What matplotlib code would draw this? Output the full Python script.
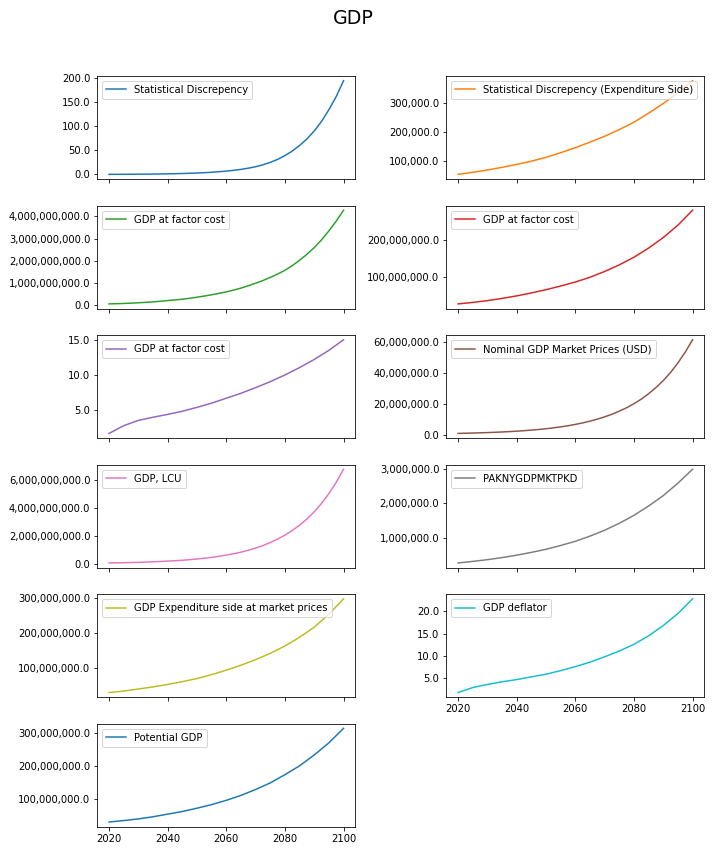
import matplotlib
matplotlib.use("Agg")
import matplotlib.pyplot as plt
from matplotlib.ticker import StrMethodFormatter

years = [2020, 2025, 2030, 2035, 2040, 2045, 2050, 2055, 2060,
         2065, 2070, 2075, 2080, 2085, 2090, 2095, 2100]
years_fine = [2020, 2022.5, 2025, 2027.5, 2030, 2032.5, 2035, 2037.5, 2040,
              2042.5, 2045, 2047.5, 2050, 2052.5, 2055, 2057.5, 2060,
              2062.5, 2065, 2067.5, 2070, 2072.5, 2075, 2077.5, 2080,
              2082.5, 2085, 2087.5, 2090, 2092.5, 2095, 2097.5, 2100]

stat_disc = [0.23, 0.29, 0.36, 0.445, 0.55, 0.68, 0.85, 1.05, 1.3,
             1.61, 2.0, 2.45, 3.0, 3.71, 4.6, 5.67, 7.0,
             8.57, 10.5, 12.96, 16, 20, 25, 31.2, 39,
             48.4, 60, 73.5, 90, 109.8, 134, 161.2, 194]
stat_disc_exp = [56e3, 63e3, 71e3, 80e3, 90e3, 101e3, 114e3, 130e3, 147e3,
                 166e3, 186e3, 209e3, 234e3, 265e3, 298e3, 335e3, 376e3]
gdp_fc_lcu = [0.07e9, 0.079e9, 0.09e9, 0.104e9, 0.12e9, 0.139e9, 0.16e9, 0.188e9, 0.22e9,
              0.248e9, 0.28e9, 0.322e9, 0.37e9, 0.421e9, 0.48e9, 0.541e9, 0.61e9,
              0.69e9, 0.78e9, 0.883e9, 1.0e9, 1.12e9, 1.26e9, 1.41e9, 1.58e9,
              1.79e9, 2.03e9, 2.30e9, 2.6e9, 2.95e9, 3.35e9, 3.79e9, 4.28e9]
gdp_fc_real = [26e6, 30e6, 35e6, 41e6, 48e6, 56e6, 65e6, 75e6, 86e6,
               99e6, 115e6, 133e6, 154e6, 179e6, 208e6, 242e6, 283e6]
gdp_fc_defl = [1.7, 2.8, 3.55, 4.0, 4.4, 4.85, 5.4, 6.0, 6.7,
               7.4, 8.2, 9.05, 10.0, 11.05, 12.2, 13.5, 15.0]
nominal_usd = [0.75e6, 0.87e6, 1.0e6, 1.14e6, 1.3e6, 1.49e6, 1.7e6, 1.93e6, 2.2e6,
               2.53e6, 2.9e6, 3.32e6, 3.8e6, 4.36e6, 5.0e6, 5.74e6, 6.6e6,
               7.58e6, 8.7e6, 10.0e6, 11.5e6, 13.2e6, 15.2e6, 17.4e6, 20.0e6,
               23.0e6, 26.5e6, 30.5e6, 35.0e6, 40.3e6, 46.5e6, 53.5e6, 61.5e6]
gdp_lcu = [0.057e9, 0.066e9, 0.077e9, 0.088e9, 0.10e9, 0.118e9, 0.14e9, 0.163e9, 0.19e9,
           0.218e9, 0.25e9, 0.292e9, 0.34e9, 0.395e9, 0.46e9, 0.534e9, 0.62e9,
           0.717e9, 0.83e9, 0.964e9, 1.12e9, 1.30e9, 1.52e9, 1.77e9, 2.05e9,
           2.38e9, 2.76e9, 3.20e9, 3.72e9, 4.32e9, 5.02e9, 5.83e9, 6.76e9]
paknygdp = [0.275e6, 0.32e6, 0.37e6, 0.43e6, 0.50e6, 0.58e6, 0.67e6, 0.78e6, 0.90e6,
            1.05e6, 1.22e6, 1.42e6, 1.65e6, 1.92e6, 2.22e6, 2.58e6, 2.98e6]
gdp_exp = [30e6, 34e6, 40e6, 46e6, 53e6, 61e6, 70e6, 81e6, 94e6,
           108e6, 124e6, 142e6, 163e6, 188e6, 217e6, 254e6, 298e6]
gdp_deflator = [1.8, 2.9, 3.6, 4.2, 4.7, 5.3, 5.9, 6.7, 7.6,
                8.6, 9.8, 11.1, 12.6, 14.5, 16.8, 19.5, 22.8]
potential_gdp = [29e6, 33.5e6, 38.5e6, 45e6, 53e6, 61e6, 71e6, 82e6, 95e6,
                 110e6, 128e6, 148e6, 173e6, 200e6, 233e6, 270e6, 314e6]

labels = ["Statistical Discrepency",
          "Statistical Discrepency (Expenditure Side)",
          "GDP at factor cost",
          "GDP at factor cost",
          "GDP at factor cost",
          "Nominal GDP Market Prices (USD)",
          "GDP, LCU",
          "PAKNYGDPMKTPKD",
          "GDP Expenditure side at market prices",
          "GDP deflator",
          "Potential GDP"]
series = [stat_disc, stat_disc_exp, gdp_fc_lcu, gdp_fc_real, gdp_fc_defl,
          nominal_usd, gdp_lcu, paknygdp, gdp_exp, gdp_deflator, potential_gdp]
colors = ["C0", "C1", "C2", "C3", "C4", "C5", "C6", "C7", "C8", "C9", "C0"]

plt.rcParams["font.size"] = 10
fig, axes = plt.subplots(6, 2, sharex=True, figsize=(712 / 72, 850 / 72), dpi=72)
fig.subplots_adjust(left=0.1367, right=0.9892, top=0.9106, bottom=0.0274,
                    wspace=0.353, hspace=0.257)

flat = axes.flatten()
for ax, lab, vals, col in zip(flat, labels, series, colors):
    xs = years_fine if len(vals) == len(years_fine) else years
    ax.plot(xs, vals, color=col, label=lab)
    ax.yaxis.set_major_formatter(StrMethodFormatter("{x:,.1f}"))
    ax.legend(loc="upper left")

flat[-1].remove()
axes[4, 1].xaxis.set_tick_params(labelbottom=True)
axes[4, 1].set_xticks([2020, 2040, 2060, 2080, 2100])

fig.suptitle("GDP", fontsize=19, x=0.4963, y=0.99)
fig.savefig("out.png", dpi=72)
